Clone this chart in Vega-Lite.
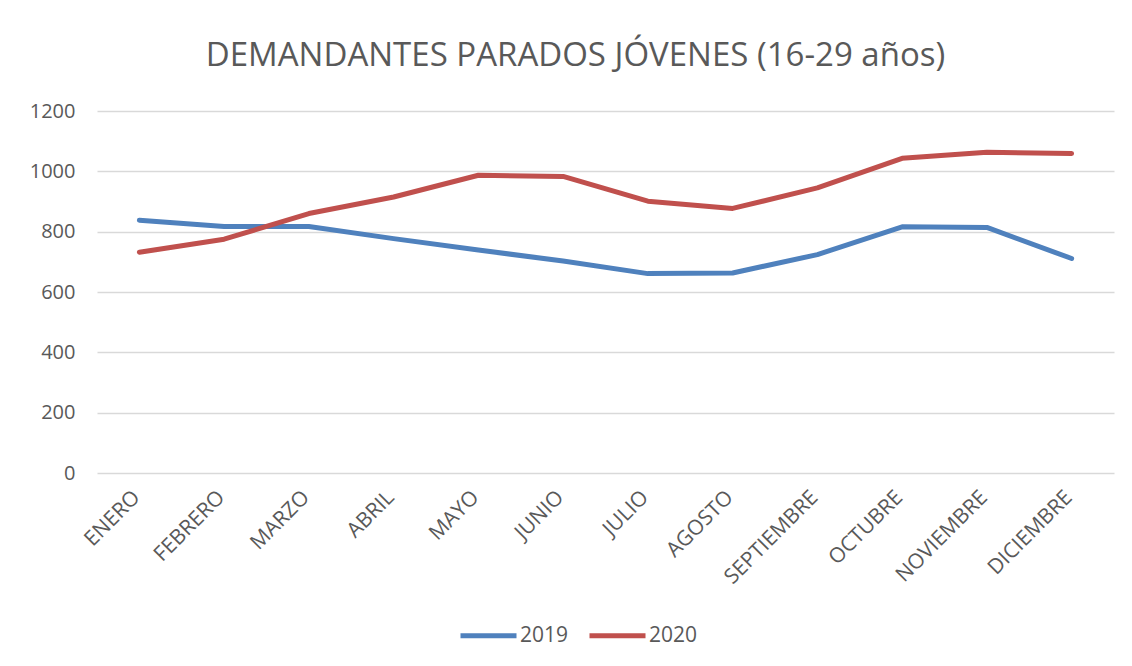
{
  "$schema": "https://vega.github.io/schema/vega-lite/v6.json",
  "autosize": {"type": "none"},
  "padding": {"left": 97, "top": 111, "right": 18, "bottom": 193},
  "width": 1017,
  "height": 362,
  "background": "white",
  "title": {
    "text": "DEMANDANTES PARADOS JÓVENES (16-29 años)",
    "font": "Open Sans",
    "fontSize": 33,
    "fontWeight": "normal",
    "color": "#595959",
    "anchor": "middle",
    "offset": 28,
    "dx": -30
  },
  "data": {
    "values": [
      {"mes": "ENERO", "serie": "2019", "valor": 838},
      {"mes": "FEBRERO", "serie": "2019", "valor": 817},
      {"mes": "MARZO", "serie": "2019", "valor": 817},
      {"mes": "ABRIL", "serie": "2019", "valor": 777},
      {"mes": "MAYO", "serie": "2019", "valor": 739},
      {"mes": "JUNIO", "serie": "2019", "valor": 703},
      {"mes": "JULIO", "serie": "2019", "valor": 661},
      {"mes": "AGOSTO", "serie": "2019", "valor": 663},
      {"mes": "SEPTIEMBRE", "serie": "2019", "valor": 724},
      {"mes": "OCTUBRE", "serie": "2019", "valor": 816},
      {"mes": "NOVIEMBRE", "serie": "2019", "valor": 814},
      {"mes": "DICIEMBRE", "serie": "2019", "valor": 711},
      {"mes": "ENERO", "serie": "2020", "valor": 732},
      {"mes": "FEBRERO", "serie": "2020", "valor": 775},
      {"mes": "MARZO", "serie": "2020", "valor": 860},
      {"mes": "ABRIL", "serie": "2020", "valor": 915},
      {"mes": "MAYO", "serie": "2020", "valor": 987},
      {"mes": "JUNIO", "serie": "2020", "valor": 983},
      {"mes": "JULIO", "serie": "2020", "valor": 901},
      {"mes": "AGOSTO", "serie": "2020", "valor": 877},
      {"mes": "SEPTIEMBRE", "serie": "2020", "valor": 945},
      {"mes": "OCTUBRE", "serie": "2020", "valor": 1043},
      {"mes": "NOVIEMBRE", "serie": "2020", "valor": 1063},
      {"mes": "DICIEMBRE", "serie": "2020", "valor": 1059}
    ]
  },
  "mark": {"type": "line", "strokeWidth": 5, "strokeCap": "round", "strokeJoin": "round"},
  "encoding": {
    "x": {
      "field": "mes",
      "type": "nominal",
      "sort": null,
      "scale": {"type": "point", "padding": 0.5},
      "axis": {
        "title": null,
        "labelAngle": -45,
        "labelAlign": "right",
        "labelBaseline": "middle",
        "labelFont": "Open Sans",
        "labelFontSize": 21,
        "labelColor": "#595959",
        "labelPadding": 21,
        "labelOffset": -3,
        "ticks": false,
        "domain": false,
        "grid": false
      }
    },
    "y": {
      "field": "valor",
      "type": "quantitative",
      "scale": {"domain": [0, 1200]},
      "axis": {
        "title": null,
        "format": "d",
        "values": [0, 200, 400, 600, 800, 1000, 1200],
        "labelFont": "Open Sans",
        "labelFontSize": 20,
        "labelColor": "#595959",
        "labelPadding": 22,
        "ticks": false,
        "domain": false,
        "grid": true,
        "gridColor": "#D9D9D9",
        "gridWidth": 1.3
      }
    },
    "color": {
      "field": "serie",
      "type": "nominal",
      "scale": {"domain": ["2019", "2020"], "range": ["#4F81BD", "#C0504D"]},
      "legend": {
        "title": null,
        "orient": "none",
        "direction": "horizontal",
        "legendX": 361,
        "legendY": 494,
        "symbolType": "stroke",
        "symbolSize": 3136,
        "symbolStrokeWidth": 5,
        "labelFont": "Open Sans",
        "labelFontSize": 21,
        "labelColor": "#595959",
        "labelOffset": 1,
        "columnPadding": 10
      }
    }
  },
  "config": {"view": {"stroke": null}}
}
